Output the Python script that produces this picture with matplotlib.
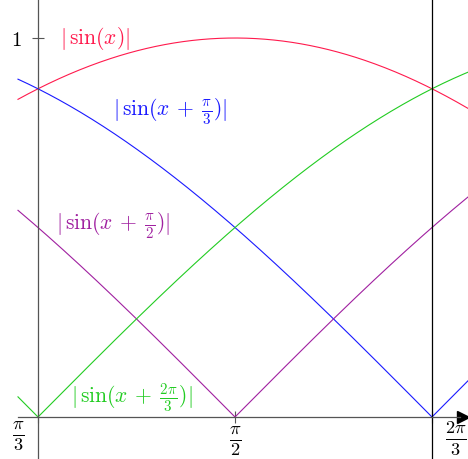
import numpy as np
import matplotlib
matplotlib.use("Agg")
import matplotlib.pyplot as plt
from matplotlib.transforms import ScaledTranslation

plt.rcParams["mathtext.fontset"] = "cm"
plt.rcParams["font.family"] = "serif"

# phase shifts of |sin(x + s)| and their labels
shifts = [0, np.pi / 3, np.pi / 2, 2 * np.pi / 3]
names = [r"$|\,\sin(x)|$", r"$|\,\sin(x\,+\;\frac{\pi}{3})|$",
         r"$|\,\sin(x\,+\;\frac{\pi}{2})|$", r"$|\,\sin(x\,+\;\frac{2\pi}{3})|$"]
colors = ["#ff1a4d", "#1a1aff", "#a020a0", "#22cc22"]
label_xy = [(1.198, 1.0), (1.398, 0.805), (1.247, 0.503), (1.297, 0.05)]

xticks = [np.pi / 3, np.pi / 2, 2 * np.pi / 3]
xticklabels = [r"$\frac{\pi}{3}$", r"$\frac{\pi}{2}$", r"$\frac{2\pi}{3}$"]

x = np.linspace(0.994, 2.2, 400)

fig = plt.figure(figsize=(4.68, 4.59), dpi=100)
ax = fig.add_axes([0, 0, 1, 1])
ax.set_xlim(0.9462, 2.1901)
ax.set_ylim(-0.1108, 1.1003)

for s, c in zip(shifts, colors):
    ax.plot(x, np.abs(np.sin(x + s)), color=c, lw=0.8)

for name, c, (lx, ly) in zip(names, colors, label_xy):
    ax.text(lx, ly, name, color=c, fontsize=15.5, ha="center", va="center")

# axes through (pi/3, 0)
for side in ["top", "right"]:
    ax.spines[side].set_visible(False)
ax.spines["left"].set_position(("data", np.pi / 3))
ax.spines["bottom"].set_position(("data", 0))
ax.spines["bottom"].set_bounds(0.994, 2.17)
for side in ["left", "bottom"]:
    ax.spines[side].set_color("#555555")
    ax.spines[side].set_linewidth(0.9)
ax.axvline(2 * np.pi / 3, color="black", lw=0.9)
ax.plot(0.9885, 0, ">k", markersize=9, transform=ax.get_yaxis_transform(),
        clip_on=False)

ax.set_yticks([1])
ax.set_yticklabels([r"$1$"], fontsize=15)
ax.set_xticks(xticks)
ax.set_xticklabels(xticklabels, fontsize=19)
ax.tick_params(direction="inout", length=8, width=0.8, color="#555555", pad=1)
ax.tick_params(axis="y", pad=8)

offsets = [(-14, 3), (0, 0), (17, 3)]
for lab, (dx, dy) in zip(ax.get_xticklabels(), offsets):
    lab.set_transform(lab.get_transform() +
                      ScaledTranslation(dx / 72, dy / 72, fig.dpi_scale_trans))

fig.savefig("out.png", dpi=100)
